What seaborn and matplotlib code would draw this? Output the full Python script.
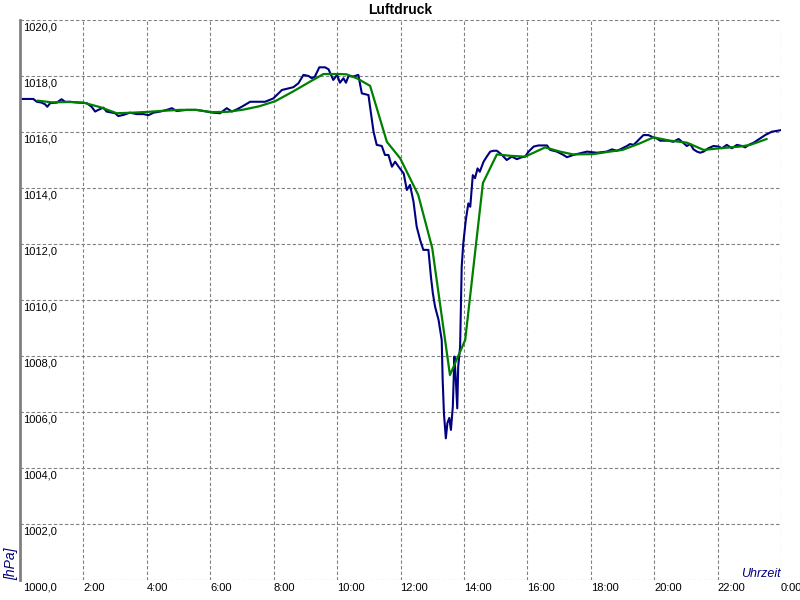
import numpy as np
import pandas as pd
import matplotlib
matplotlib.use("Agg")
import matplotlib.pyplot as plt
import seaborn as sns

# measured pressure (hours of day, hPa)
blue_t = [0.00, 0.10, 0.42, 0.53, 0.68, 0.79, 0.86, 0.95, 1.16, 1.31, 1.42, 1.58, 1.84, 2.10,
          2.26, 2.37, 2.47, 2.63, 2.73, 3.00, 3.10, 3.26, 3.47, 3.68, 3.89, 4.05, 4.21, 4.42,
          4.63, 4.79, 4.94, 5.26, 5.57, 5.89, 6.10, 6.31, 6.52, 6.68, 6.84, 6.99, 7.26, 7.47,
          7.73, 7.99, 8.15, 8.26, 8.62, 8.78, 8.94, 9.10, 9.20, 9.30, 9.44, 9.62, 9.73, 9.88,
          10.00, 10.09, 10.20, 10.28, 10.36, 10.51, 10.67, 10.78, 10.99, 11.04, 11.15, 11.25,
          11.41, 11.51, 11.62, 11.73, 11.83, 11.94, 12.10, 12.20, 12.30, 12.41, 12.51, 12.62,
          12.72, 12.88, 12.96, 13.02, 13.09, 13.20, 13.30, 13.33, 13.37, 13.43, 13.48, 13.54,
          13.59, 13.65, 13.70, 13.74, 13.79, 13.82, 13.88, 13.93, 13.98, 14.06, 14.14, 14.20,
          14.28, 14.35, 14.43, 14.50, 14.62, 14.72, 14.83, 14.93, 15.04, 15.20, 15.35, 15.51,
          15.67, 15.83, 15.93, 16.04, 16.20, 16.35, 16.62, 16.72, 16.93, 17.14, 17.25, 17.45,
          17.67, 17.88, 18.20, 18.50, 18.67, 18.82, 18.93, 19.14, 19.24, 19.35, 19.45, 19.66,
          19.82, 19.93, 20.08, 20.19, 20.45, 20.60, 20.77, 20.93, 21.03, 21.14, 21.24, 21.35,
          21.45, 21.56, 21.71, 21.87, 22.03, 22.14, 22.29, 22.45, 22.61, 22.77, 22.87, 22.98,
          23.14, 23.34, 23.50, 23.71, 23.92, 24.00]
blue_p = [1017.18, 1017.18, 1017.18, 1017.08, 1017.05, 1016.99, 1016.90, 1017.03, 1017.05,
          1017.17, 1017.08, 1017.08, 1017.05, 1017.03, 1016.90, 1016.73, 1016.79, 1016.87,
          1016.73, 1016.67, 1016.57, 1016.61, 1016.69, 1016.64, 1016.64, 1016.60, 1016.69,
          1016.73, 1016.79, 1016.85, 1016.75, 1016.79, 1016.79, 1016.73, 1016.69, 1016.67,
          1016.85, 1016.73, 1016.81, 1016.90, 1017.08, 1017.08, 1017.08, 1017.20, 1017.38,
          1017.50, 1017.60, 1017.74, 1018.04, 1018.00, 1017.92, 1017.98, 1018.31, 1018.31,
          1018.24, 1017.86, 1018.04, 1017.76, 1017.92, 1017.76, 1018.00, 1017.98, 1018.04,
          1017.38, 1017.32, 1016.90, 1016.01, 1015.54, 1015.50, 1015.18, 1015.18, 1014.76,
          1014.94, 1014.76, 1014.52, 1013.93, 1014.11, 1013.51, 1012.62, 1012.14, 1011.79,
          1011.79, 1010.83, 1010.24, 1009.76, 1009.29, 1008.57, 1007.14, 1005.95, 1005.06,
          1005.61, 1005.79, 1005.36, 1006.19, 1007.98, 1007.26, 1006.13, 1007.62, 1008.33,
          1011.19, 1012.02, 1012.86, 1013.45, 1013.33, 1014.46, 1014.35, 1014.70, 1014.58,
          1014.94, 1015.12, 1015.30, 1015.33, 1015.33, 1015.18, 1015.00, 1015.12, 1015.03,
          1015.10, 1015.12, 1015.30, 1015.48, 1015.52, 1015.52, 1015.36, 1015.30, 1015.18,
          1015.10, 1015.18, 1015.24, 1015.30, 1015.26, 1015.30, 1015.38, 1015.33, 1015.38,
          1015.50, 1015.57, 1015.54, 1015.65, 1015.89, 1015.89, 1015.83, 1015.77, 1015.69,
          1015.69, 1015.65, 1015.75, 1015.60, 1015.50, 1015.57, 1015.38, 1015.30, 1015.26,
          1015.30, 1015.42, 1015.50, 1015.48, 1015.42, 1015.54, 1015.42, 1015.54, 1015.50,
          1015.45, 1015.54, 1015.62, 1015.77, 1015.89, 1016.01, 1016.05, 1016.07]

# smoothed curve
green_t = [0.55, 1.00, 1.55, 2.00, 2.55, 3.05, 3.55, 4.05, 4.55, 5.05, 5.55, 6.05, 6.55, 7.05,
           7.55, 8.05, 8.60, 9.15, 9.57, 10.05, 10.30, 10.62, 11.04, 11.57, 11.99, 12.56, 13.00,
           13.56, 14.04, 14.60, 15.04, 15.46, 15.93, 16.56, 17.03, 17.44, 18.08, 18.60, 19.00,
           19.56, 19.98, 20.50, 21.03, 21.56, 22.08, 22.71, 23.03, 23.55]
green_p = [1017.12, 1017.06, 1017.07, 1017.05, 1016.88, 1016.67, 1016.69, 1016.72, 1016.76,
           1016.79, 1016.79, 1016.71, 1016.72, 1016.80, 1016.92, 1017.10, 1017.44, 1017.80,
           1018.07, 1018.07, 1018.06, 1017.92, 1017.65, 1015.65, 1015.06, 1013.75, 1011.86,
           1007.32, 1008.57, 1014.18, 1015.20, 1015.15, 1015.12, 1015.45, 1015.30, 1015.20,
           1015.21, 1015.30, 1015.36, 1015.60, 1015.81, 1015.69, 1015.62, 1015.36, 1015.42,
           1015.48, 1015.54, 1015.75]

x_ticks = [2, 4, 6, 8, 10, 12, 14, 16, 18, 20, 22, 24]
x_labels = ["2:00", "4:00", "6:00", "8:00", "10:00", "12:00", "14:00", "16:00",
            "18:00", "20:00", "22:00", "0:00"]
y_ticks = [1000, 1002, 1004, 1006, 1008, 1010, 1012, 1014, 1016, 1018, 1020]
y_labels = [f"{v},0" for v in y_ticks]

sns.set_style("white")
plt.rcParams["font.family"] = ["Liberation Sans", "DejaVu Sans"]

fig = plt.figure(figsize=(8, 6), dpi=100)
ax = fig.add_axes([20 / 800, 20 / 600, 761 / 800, 560 / 600])

blue = pd.DataFrame({"t": blue_t, "p": blue_p})
green = pd.DataFrame({"t": green_t, "p": green_p})
sns.lineplot(data=blue, x="t", y="p", color="#000080", lw=1.5, estimator=None, ax=ax)
sns.lineplot(data=green, x="t", y="p", color="#008000", lw=1.6, estimator=None, ax=ax)

ax.set_xlim(0, 24)
ax.set_ylim(1000, 1020)
ax.set_xticks(x_ticks)
ax.set_xticklabels(x_labels, ha="left")
ax.set_yticks(y_ticks)
ax.set_yticklabels(y_labels, ha="left", va="top")
ax.tick_params(axis="x", length=0, pad=2, labelsize=8, labelcolor="black")
ax.tick_params(axis="y", length=0, pad=-2, labelsize=8, labelcolor="black")
ax.set_xlabel("")
ax.set_ylabel("")

ax.grid(True, color="#808080", linestyle=(0, (3, 2)), linewidth=0.8)
ax.set_axisbelow(True)
for side in ["top", "right", "bottom"]:
    ax.spines[side].set_visible(False)
ax.spines["left"].set_color("#808080")
ax.spines["left"].set_linewidth(2)
for lab in ax.get_yticklabels():
    lab.set_transform(lab.get_transform() + matplotlib.transforms.ScaledTranslation(0, -2 / 72, fig.dpi_scale_trans))

fig.text(0.5, 1 - 10 / 600, "Luftdruck", ha="center", va="center",
         fontsize=10, fontweight="bold", color="black")
ax.text(1.0, 0.0, "Uhrzeit", transform=ax.transAxes, ha="right", va="bottom",
        fontsize=9, style="italic", color="#000080")
fig.text(11 / 800, 20 / 600, "[hPa]", rotation=90, ha="center", va="bottom",
         fontsize=10, style="italic", color="#000080")

fig.savefig("out.png", dpi=100)
